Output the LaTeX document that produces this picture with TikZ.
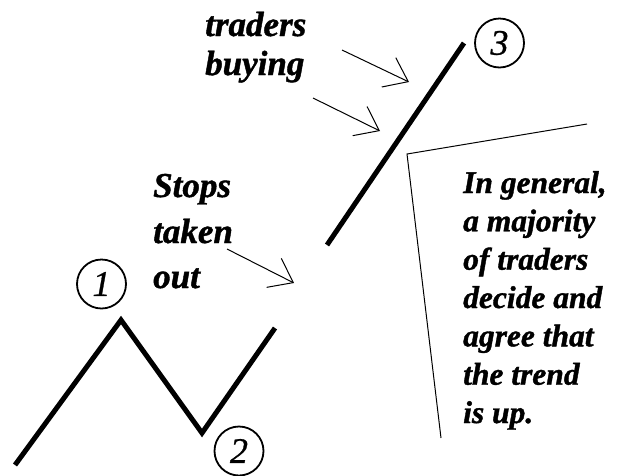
\documentclass[tikz,border=0pt]{standalone}
\usepackage{fontspec}
\setmainfont{Liberation Serif}
\newfontfamily\labelfont{Liberation Serif}[BoldItalicFeatures={FakeBold=1.2},ItalicFeatures={FakeBold=0.8}]
\usetikzlibrary{arrows.meta}
\begin{document}
\begin{tikzpicture}[x=1pt,y=-1pt,
  thickline/.style={line width=5pt, line join=miter},
  thinline/.style={line width=1pt},
  pointer/.style={line width=1pt, -{Straight Barb[length=21.6pt, width=32.5pt]}},
  numcircle/.style={draw, circle, line width=1.8pt, minimum size=49pt, inner sep=0pt,
    font=\labelfont\fontsize{36}{40}\selectfont\itshape},
  bigtxt/.style={anchor=base west, inner sep=0pt, font=\labelfont\fontsize{35}{40}\selectfont\bfseries\itshape},
  smalltxt/.style={anchor=base west, inner sep=0pt, font=\labelfont\fontsize{31.5}{36}\selectfont\bfseries\itshape}]
\useasboundingbox (0,0) rectangle (618,475);
% price path
\coordinate (z0) at (15,465);
\coordinate (z1) at (121,320);
\coordinate (z2) at (202,433);
\coordinate (z3) at (275,328);
\coordinate (u0) at (327,245);
\coordinate (u1) at (464,43);
\draw[thickline] (z0) -- (z1) -- (z2) -- (z3);
\draw[thickline] (u0) -- (u1);
% circled numbers
\node[numcircle] (c1) at (101.5,284) {1};
\node[numcircle] (c2) at (239,451) {2};
\node[numcircle] (c3) at (499.5,43) {3};
% labels
\node[bigtxt] (t1) at (205,36) {traders};
\node[bigtxt] (t2) at (205,75) {buying};
\node[bigtxt] (s1) at (153,197) {Stops};
\node[bigtxt] (s2) at (153,243) {taken};
\node[bigtxt] (s3) at (153,288) {out};
\node[smalltxt] (g1) at (463,193) {In general,};
\node[smalltxt] (g2) at (463,231.3) {a majority};
\node[smalltxt] (g3) at (463,269.7) {of traders};
\node[smalltxt] (g4) at (463,308) {decide and};
\node[smalltxt] (g5) at (463,346.3) {agree that};
\node[smalltxt] (g6) at (463,384.7) {the trend};
\node[smalltxt] (g7) at (463,423) {is up.};
% pointer arrows
\coordinate (a1s) at (342,50);  \coordinate (a1e) at (409,82);
\coordinate (a2s) at (313,98);  \coordinate (a2e) at (380,131);
\coordinate (a3s) at (227,249); \coordinate (a3e) at (294,283);
\draw[pointer] (a1s) -- (a1e);
\draw[pointer] (a2s) -- (a2e);
\draw[pointer] (a3s) -- (a3e);
% callout bracket
\coordinate (b0) at (587,124);
\coordinate (b1) at (407,154);
\coordinate (b2) at (441,438);
\draw[thinline] (b0) -- (b1) -- (b2);
\end{tikzpicture}
\end{document}
